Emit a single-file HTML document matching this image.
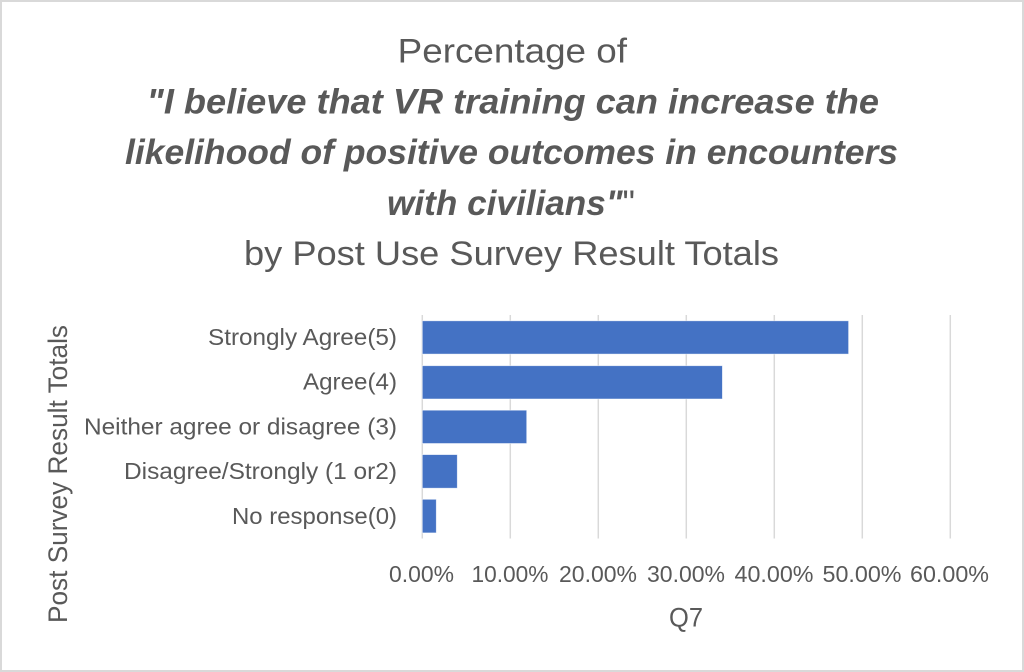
<!DOCTYPE html>
<html>
<head>
<meta charset="utf-8">
<style>
  html,body{margin:0;padding:0;background:#fff;}
  svg{display:block;}
  text{font-family:"Liberation Sans",Arial,sans-serif;fill:#595959;}
</style>
</head>
<body>
<svg width="1024" height="672" viewBox="0 0 1024 672" xmlns="http://www.w3.org/2000/svg">
  <rect x="0" y="0" width="1024" height="672" fill="#ffffff"/>
  <rect x="1" y="1" width="1022" height="670" fill="none" stroke="#d9d9d9" stroke-width="2"/>

  <!-- Title -->
  <text x="397.7" y="62.7" font-size="34" textLength="229.3" lengthAdjust="spacingAndGlyphs">Percentage of</text>
  <text x="146.7" y="113.3" font-size="35" font-weight="bold" font-style="italic" textLength="732.3" lengthAdjust="spacingAndGlyphs">"I believe that VR training can increase the</text>
  <text x="125" y="164" font-size="35" font-weight="bold" font-style="italic" textLength="773" lengthAdjust="spacingAndGlyphs">likelihood of positive outcomes in encounters</text>
  <text x="387" y="215" font-size="35" textLength="248" lengthAdjust="spacingAndGlyphs"><tspan font-weight="bold" font-style="italic">with civilians"</tspan>"</text>
  <text x="244" y="265" font-size="34" textLength="535" lengthAdjust="spacingAndGlyphs">by Post Use Survey Result Totals</text>

  <!-- Gridlines -->
  <g stroke="#d9d9d9" stroke-width="1.5">
    <line x1="422.3" y1="315" x2="422.3" y2="538.5"/>
    <line x1="510.3" y1="315" x2="510.3" y2="538.5"/>
    <line x1="598.3" y1="315" x2="598.3" y2="538.5"/>
    <line x1="686.3" y1="315" x2="686.3" y2="538.5"/>
    <line x1="774.3" y1="315" x2="774.3" y2="538.5"/>
    <line x1="862.3" y1="315" x2="862.3" y2="538.5"/>
    <line x1="950.3" y1="315" x2="950.3" y2="538.5"/>
  </g>

  <!-- Bars -->
  <g fill="#4472c4" stroke="#ffffff" stroke-opacity="0.6" stroke-width="0.8">
    <rect x="422.3" y="320.8" width="426.3" height="33.3"/>
    <rect x="422.3" y="365.7" width="300.1" height="33.3"/>
    <rect x="422.3" y="410.2" width="104.4" height="33.3"/>
    <rect x="422.3" y="454.6" width="35.0" height="33.6"/>
    <rect x="422.3" y="499.3" width="14.0" height="33.6"/>
  </g>

  <!-- Category labels -->
  <g font-size="23" text-anchor="end">
    <text x="397" y="345" textLength="189" lengthAdjust="spacingAndGlyphs">Strongly Agree(5)</text>
    <text x="397" y="389.7" textLength="94" lengthAdjust="spacingAndGlyphs">Agree(4)</text>
    <text x="397" y="434.4" textLength="313" lengthAdjust="spacingAndGlyphs">Neither agree or disagree (3)</text>
    <text x="397" y="479.1" textLength="273" lengthAdjust="spacingAndGlyphs">Disagree/Strongly (1 or2)</text>
    <text x="397" y="523.8" textLength="165" lengthAdjust="spacingAndGlyphs">No response(0)</text>
  </g>

  <!-- Tick labels -->
  <g font-size="23" text-anchor="middle">
    <text x="421.5" y="582" textLength="65" lengthAdjust="spacingAndGlyphs">0.00%</text>
    <text x="510" y="582" textLength="77" lengthAdjust="spacingAndGlyphs">10.00%</text>
    <text x="598" y="582" textLength="78" lengthAdjust="spacingAndGlyphs">20.00%</text>
    <text x="686" y="582" textLength="78" lengthAdjust="spacingAndGlyphs">30.00%</text>
    <text x="774" y="582" textLength="79" lengthAdjust="spacingAndGlyphs">40.00%</text>
    <text x="862" y="582" textLength="79" lengthAdjust="spacingAndGlyphs">50.00%</text>
    <text x="949.5" y="582" textLength="79" lengthAdjust="spacingAndGlyphs">60.00%</text>
  </g>

  <!-- Axis titles -->
  <text x="686" y="626.7" font-size="27" text-anchor="middle" textLength="34" lengthAdjust="spacingAndGlyphs">Q7</text>
  <text transform="translate(67,474) rotate(-90)" x="0" y="0" font-size="27" text-anchor="middle" textLength="298" lengthAdjust="spacingAndGlyphs">Post Survey Result Totals</text>
</svg>
</body>
</html>
